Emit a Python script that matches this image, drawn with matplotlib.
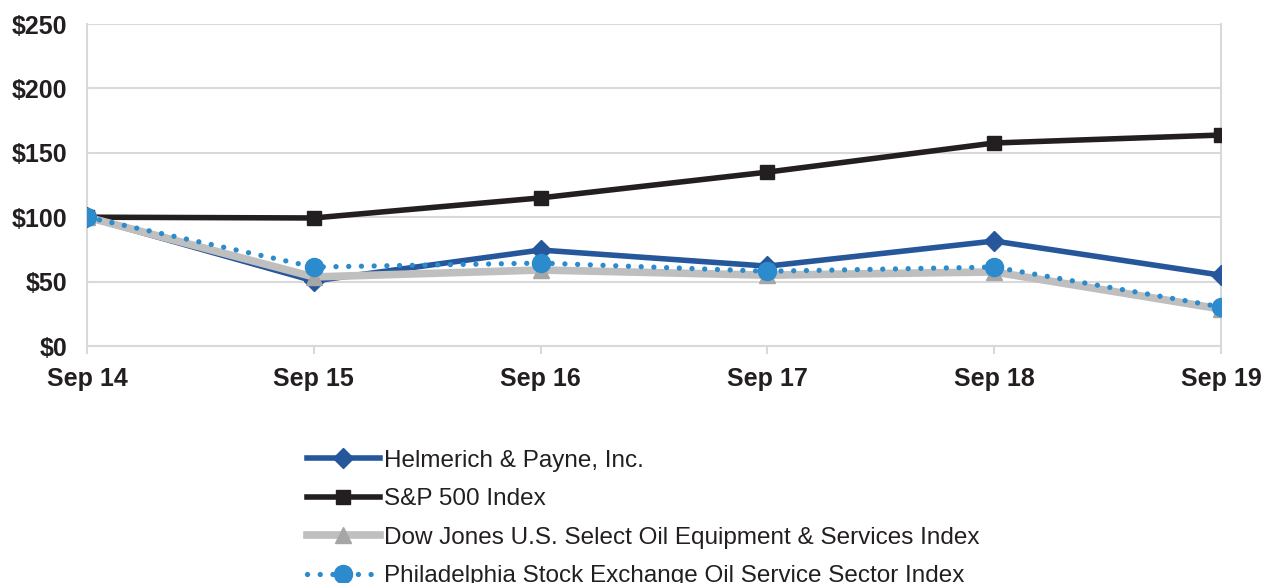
import matplotlib.pyplot as plt
from matplotlib.ticker import FuncFormatter

years = ['Sep 14', 'Sep 15', 'Sep 16', 'Sep 17', 'Sep 18', 'Sep 19']
hp = [100, 50.5, 74.5, 62, 81.5, 55]
sp500 = [100, 99.4, 115, 135, 157.6, 163.8]
dj_oil = [100, 53.6, 59, 55, 57.5, 28.7]
phlx = [100, 61.3, 64.4, 58, 61.3, 30.3]

plt.rcParams['font.family'] = ['Liberation Sans', 'DejaVu Sans']

fig = plt.figure(figsize=(12.63, 5.83), dpi=100)
ax = fig.add_axes([87 / 1263, 1 - 346 / 583, (1221 - 87) / 1263, (346 - 24) / 583])

x = list(range(len(years)))
grid_c = '#d9d9d9'

ax.plot(x, hp, color='#25579a', lw=4, marker='D', ms=10, label='Helmerich & Payne, Inc.', zorder=3)
ax.plot(x, sp500, color='#231f20', lw=4, marker='s', ms=10, label='S&P 500 Index', zorder=3)
ax.plot(x, dj_oil, color='#bfbfbf', lw=5.5, marker='^', ms=12, mfc='#a6a6a6', mec='#a6a6a6',
        label='Dow Jones U.S. Select Oil Equipment & Services Index', zorder=4)
ax.plot(x, phlx, color='#2b8bcc', lw=3.8, ls=(0, (0.01, 2.4)), dash_capstyle='round', marker='o', ms=13,
        label='Philadelphia Stock Exchange Oil Service Sector Index', zorder=5)

ax.set_xlim(0, 5)
ax.set_ylim(0, 250)
ax.set_yticks([0, 50, 100, 150, 200, 250])
ax.yaxis.set_major_formatter(FuncFormatter(lambda v, p: f'${v:.0f}'))
ax.set_xticks(x)
ax.set_xticklabels(years)
ax.grid(axis='y', color=grid_c, lw=1.5)
ax.set_axisbelow(True)

for s in ['left', 'right', 'bottom']:
    ax.spines[s].set_color(grid_c)
    ax.spines[s].set_linewidth(1.5)
ax.spines['top'].set_visible(False)
ax.tick_params(axis='x', length=6, width=1.5, color=grid_c, pad=9, labelsize=18)
ax.tick_params(axis='y', length=0, pad=14, labelsize=18)
for lbl in ax.get_xticklabels() + ax.get_yticklabels():
    lbl.set_fontweight('bold')
    lbl.set_color('#231f20')

fig.legend(loc='upper left', bbox_to_anchor=(297 / 1263, 1 - 440 / 583), frameon=False,
           fontsize=17.5, handlelength=3.0, handletextpad=0.2, labelspacing=0.68,
           borderaxespad=0, labelcolor='#231f20')

fig.savefig('out.png', dpi=100)
